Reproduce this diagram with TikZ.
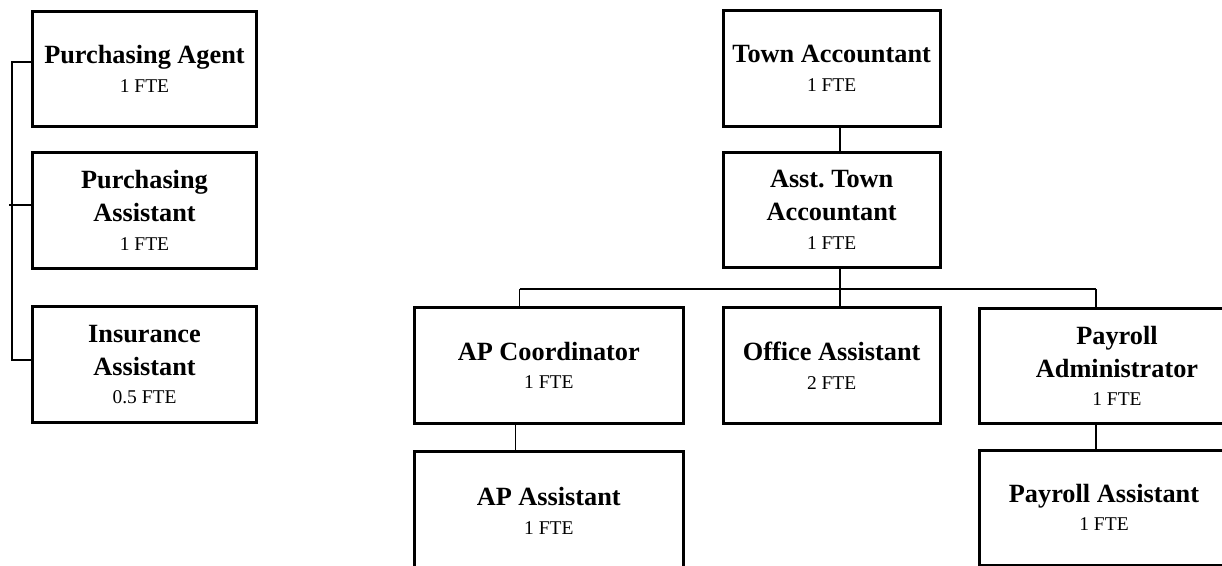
\documentclass[tikz,border=0pt]{standalone}
\usepackage{fontspec}
\setmainfont{Liberation Serif}
\usetikzlibrary{calc}
\frenchspacing
\newcommand\ftepart[1]{\\[-4.5pt]{\fontsize{19.5}{28.5}\selectfont\mdseries #1}}
\tikzset{
  rolebox/.style={draw, line width=3pt, rectangle, inner sep=0pt, outer sep=0pt,
    minimum height=115.5pt, align=center,
    font=\fontsize{26.3}{33}\selectfont\bfseries},
  link/.style={draw, line width=1.9pt},
}
\begin{document}
\begin{tikzpicture}[x=1pt,y=-1pt]
\useasboundingbox (0,0) rectangle (1222,565);
\clip (0,0) rectangle (1222,565);

% purchasing group
\node[rolebox, minimum width=224pt] (pa) at (144.5,68.75) {Purchasing Agent\ftepart{1 FTE}};
\node[rolebox, minimum width=224pt] (ps) at (144.5,210.6) {Purchasing\\Assistant\ftepart{1 FTE}};
\node[rolebox, minimum width=224pt] (ia) at (144.5,364.7) {Insurance\\Assistant\ftepart{0.5 FTE}};

% accounting tree
\node[rolebox, minimum width=216.7pt] (ta) at (831.65,68.35) {Town Accountant\ftepart{1 FTE}};
\node[rolebox, minimum width=216.7pt] (ata) at (831.65,209.8) {Asst.\ Town\\Accountant\ftepart{1 FTE}};
\node[rolebox, minimum width=269pt] (apc) at (548.8,365.5) {AP Coordinator\ftepart{1 FTE}};
\node[rolebox, minimum width=216.7pt] (oa) at (831.65,365.5) {Office Assistant\ftepart{2 FTE}};
\node[rolebox, minimum width=275.4pt] (pad) at (1117,365.8) {Payroll\\Administrator\ftepart{1 FTE}};
\node[rolebox, minimum width=269pt, minimum height=120pt] (apa) at (548.8,511) {AP Assistant\ftepart{1 FTE}};
\node[rolebox, minimum width=249.4pt, minimum height=115pt] (pas) at (1104,507.5) {Payroll Assistant\ftepart{1 FTE}};

% bracket joining the purchasing roles
\coordinate (brx) at (12,0);
\coordinate (pat) at ($(pa.west)+(0,-6.75)$);
\coordinate (pst) at ($(ps.west)+(0,-5.6)$);
\coordinate (iat) at ($(ia.west)+(0,-4.7)$);
\draw[link] (pat) -- (brx |- pat) -- (brx |- iat) -- (iat);
\draw[link] (pst) -- ($(brx |- pst)+(-3,0)$);

% reporting lines
\coordinate (tx) at ($(ta.south)+(8.35,0)$);
\coordinate (bus) at (0,289);
\coordinate (apx) at (519.5,0);
\coordinate (px) at (1096,0);
\draw[link] (tx) -- (tx |- ata.north);
\draw[link] (tx |- ata.south) -- (tx |- bus);
\draw[link] (apx |- bus) -- (px |- bus);
\draw[link] (apx |- bus) -- (apx |- apc.north);
\draw[link] (tx |- bus) -- (tx |- oa.north);
\draw[link] (px |- bus) -- (px |- pad.north);
\coordinate (ax) at (515.5,0);
\draw[link] (ax |- apc.south) -- (ax |- apa.north);
\draw[link] (px |- pad.south) -- (px |- pas.north);
\end{tikzpicture}
\end{document}
